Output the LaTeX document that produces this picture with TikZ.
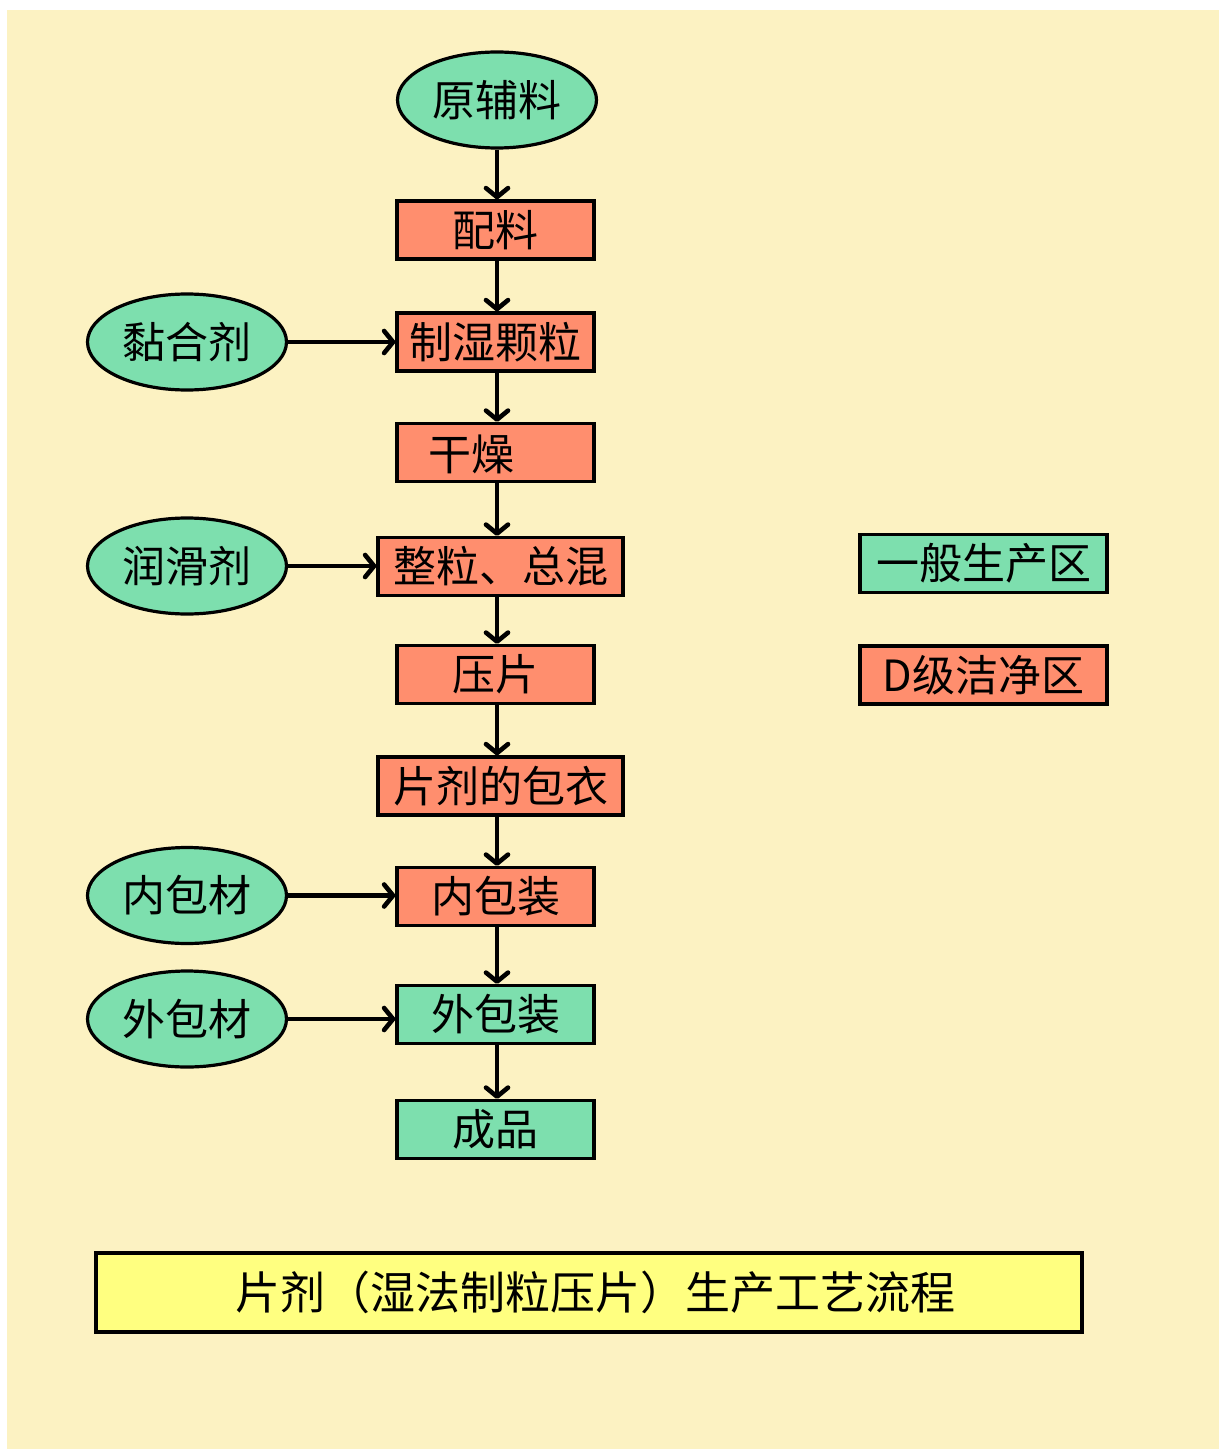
\documentclass[tikz,border=0pt]{standalone}
\usepackage{fontspec}
\newfontfamily\cjk{Noto Sans CJK SC}
\usetikzlibrary{shapes.geometric,arrows.meta}
\definecolor{bgy}{HTML}{FCF2C2}
\definecolor{salmon}{HTML}{FF8E6E}
\definecolor{mint}{HTML}{7DDFAE}
\definecolor{titley}{HTML}{FFFF80}
\tikzset{
  base/.style={draw=black,line width=3.2pt,text=black,font=\cjk\fontsize{43}{48}\selectfont,inner sep=0pt,align=center},
  redbox/.style={base,fill=salmon,minimum height=58pt},
  greenbox/.style={base,fill=mint,minimum height=58pt},
  oval/.style={base,ellipse,fill=mint,minimum width=199pt,minimum height=96pt},
  txt/.style={text=black,font=\cjk\fontsize{43}{48}\selectfont,inner sep=0pt},
  flow/.style={line width=4.4pt,-{Straight Barb[length=9pt,width=22pt,line width=4.6pt,round]}}
}
\begin{document}
\begin{tikzpicture}[x=1pt,y=-1pt]
\useasboundingbox (0,0) rectangle (1226,1455);
\fill[white] (0,0) rectangle (1226,1455);
\fill[bgy] (7,10) rectangle (1219,1449);
% main column
\node[oval] (raw) at (497,100) {原辅料};
\node[redbox,minimum width=197pt] (pl) at (495.5,230) {配料};
\node[redbox,minimum width=197pt] (zs) at (495.5,342) {制湿颗粒};
\node[redbox,minimum width=197pt] (gz) at (495.5,452.5) {};
\node[txt] (gzt) at (471,454) {干燥};
\node[redbox,minimum width=245pt] (zl) at (500.5,566.5) {整粒、总混};
\node[redbox,minimum width=197pt] (yp) at (495.5,674.5) {压片};
\node[redbox,minimum width=245pt] (by) at (500.5,786) {片剂的包衣};
\node[redbox,minimum width=197pt] (nbz) at (495.5,896.5) {内包装};
\node[greenbox,minimum width=197pt] (wbz) at (495.5,1014.5) {外包装};
\node[greenbox,minimum width=197pt] (cp) at (495.5,1129.5) {成品};
% side inputs
\node[oval] (nhj) at (187,342) {黏合剂};
\node[oval] (rhj) at (187,566) {润滑剂};
\node[oval] (nbc) at (187,895.5) {内包材};
\node[oval] (wbc) at (187,1019) {外包材};
% legend
\node[greenbox,minimum width=247pt] (lg1) at (983.5,563.5) {一般生产区};
\node[redbox,minimum width=247pt] (lg2) at (983.5,675) {D级洁净区};
% title
\node[base,fill=titley,minimum width=986pt,minimum height=79pt,font=\cjk\fontsize{45}{50}\selectfont] (title) at (589,1292.5) {\hspace*{12pt}片剂（湿法制粒压片）生产工艺流程};
% vertical flow
\draw[flow] (raw.south -| 497,0) -- (pl.north -| 497,0);
\draw[flow] (pl.south -| 497,0) -- (zs.north -| 497,0);
\draw[flow] (zs.south -| 497,0) -- (gz.north -| 497,0);
\draw[flow] (gz.south -| 497,0) -- (zl.north -| 497,0);
\draw[flow] (zl.south -| 497,0) -- (yp.north -| 497,0);
\draw[flow] (yp.south -| 497,0) -- (by.north -| 497,0);
\draw[flow] (by.south -| 497,0) -- (nbz.north -| 497,0);
\draw[flow] (nbz.south -| 497,0) -- (wbz.north -| 497,0);
\draw[flow] (wbz.south -| 497,0) -- (cp.north -| 497,0);
% horizontal flow
\draw[flow] (nhj.east) -- (zs.west |- nhj.east);
\draw[flow] (rhj.east) -- (zl.west |- rhj.east);
\draw[flow] (nbc.east) -- (nbz.west |- nbc.east);
\draw[flow] (wbc.east) -- (wbz.west |- wbc.east);
\end{tikzpicture}
\end{document}
